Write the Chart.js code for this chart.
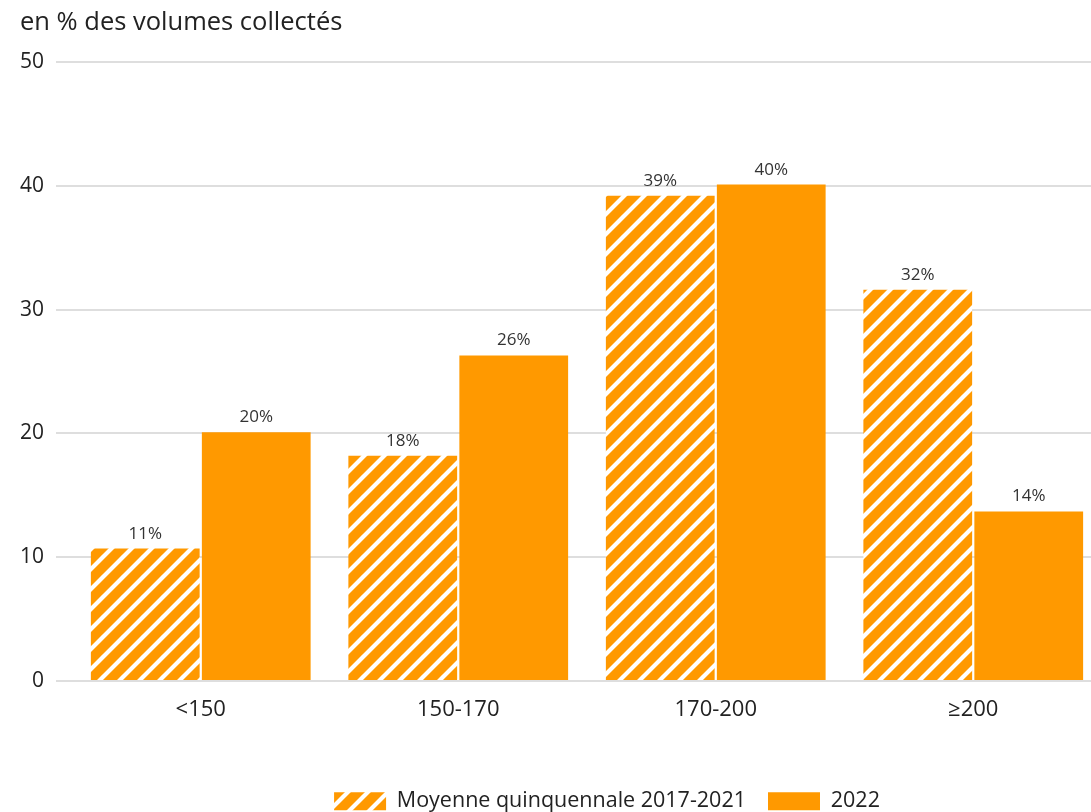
<!DOCTYPE html>
<html><head><meta charset="utf-8">
<script src="https://cdn.jsdelivr.net/npm/chart.js@4"></script>
<style>html,body{margin:0;padding:0;overflow:hidden;background:#fff}
#wrap{position:relative;width:1102px;height:812px}</style>
</head><body><div id="wrap"><canvas id="c"></canvas></div>
<script>
const categories = ['<150', '150-170', '170-200', '≥200'];
const seriesNames = ['Moyenne quinquennale 2017-2021', '2022'];
const moyenne = [10.7, 18.2, 39.2, 31.6];
const an2022 = [20.1, 26.3, 40.1, 13.7];
const moyenneLabels = ['11%', '18%', '39%', '32%'];
const an2022Labels = ['20%', '26%', '40%', '14%'];
const yTicks = [0, 10, 20, 30, 40, 50];
const titleText = 'en % des volumes collectés';

const FONT = '"Open Sans", "Noto Sans", sans-serif';
const ORANGE = '#ff9900';
const canvas = document.getElementById('c');
const ctx0 = canvas.getContext('2d');
function hatch() {
  const s = 20;
  const c = document.createElement('canvas'); c.width = s; c.height = s;
  const x = c.getContext('2d');
  x.fillStyle = ORANGE; x.fillRect(0, 0, s, s);
  x.strokeStyle = '#ffffff'; x.lineWidth = 4.2;
  x.beginPath();
  for (const o of [-s, 0, s]) { x.moveTo(o - 2, s + 2); x.lineTo(o + s + 2, -2); }
  x.stroke();
  return ctx0.createPattern(c, 'repeat');
}
const pattern = hatch();

const valueLabels = {
  id: 'valueLabels',
  afterDatasetsDraw(chart) {
    const ctx = chart.ctx; ctx.save();
    ctx.font = '17px ' + FONT; ctx.fillStyle = '#333'; ctx.textAlign = 'center'; ctx.textBaseline = 'alphabetic';
    const lbls = [moyenneLabels, an2022Labels];
    chart.data.datasets.forEach((ds, i) => {
      chart.getDatasetMeta(i).data.forEach((bar, j) => { ctx.fillText(lbls[i][j], bar.x, bar.y - 10); });
    });
    ctx.restore();
  }
};
const DX = 46, DY = 10;
const legendShift = {
  id: 'legendShift',
  afterLayout(chart) { const l = chart.legend; l.left += DX; l.right += DX; l.top += DY; l.bottom += DY; }
};

new Chart(canvas, {
  type: 'bar',
  data: {
    labels: categories,
    datasets: [
      { label: seriesNames[0], data: moyenne, backgroundColor: pattern, borderWidth: 0 },
      { label: seriesNames[1], data: an2022, backgroundColor: ORANGE, borderWidth: 0 }
    ]
  },
  options: {
    responsive: true, maintainAspectRatio: false, animation: false,
    categoryPercentage: 0.862, barPercentage: 0.98,
    layout: { padding: { left: 20, top: 7, right: 0, bottom: 0 } },
    plugins: {
      title: { display: true, text: titleText, align: 'start', color: '#222', font: { family: FONT, size: 25.5, weight: 'normal' }, padding: { top: 0, bottom: 24.4 } },
      legend: { position: 'bottom', labels: { boxWidth: 52, boxHeight: 18, padding: 22, color: '#222', font: { family: FONT, size: 21.5 } } },
      tooltip: { enabled: false }
    },
    scales: {
      x: {
        grid: { display: false, drawTicks: false }, border: { display: false },
        ticks: { padding: 16, color: '#222', font: { family: FONT, size: 22 } },
        afterFit(s) { s.height = 77.5; }
      },
      y: {
        min: 0, max: 50,
        afterBuildTicks(s) { s.ticks = yTicks.map(v => ({ value: v })); },
        ticks: { padding: 12, color: '#222', font: { family: FONT, size: 21 } },
        grid: { color: '#dedede', lineWidth: 2, tickLength: 16, drawTicks: true },
        border: { display: false },
        afterFit(s) { s.width = 52; }
      }
    }
  },
  plugins: [valueLabels, legendShift]
});
</script></body></html>
